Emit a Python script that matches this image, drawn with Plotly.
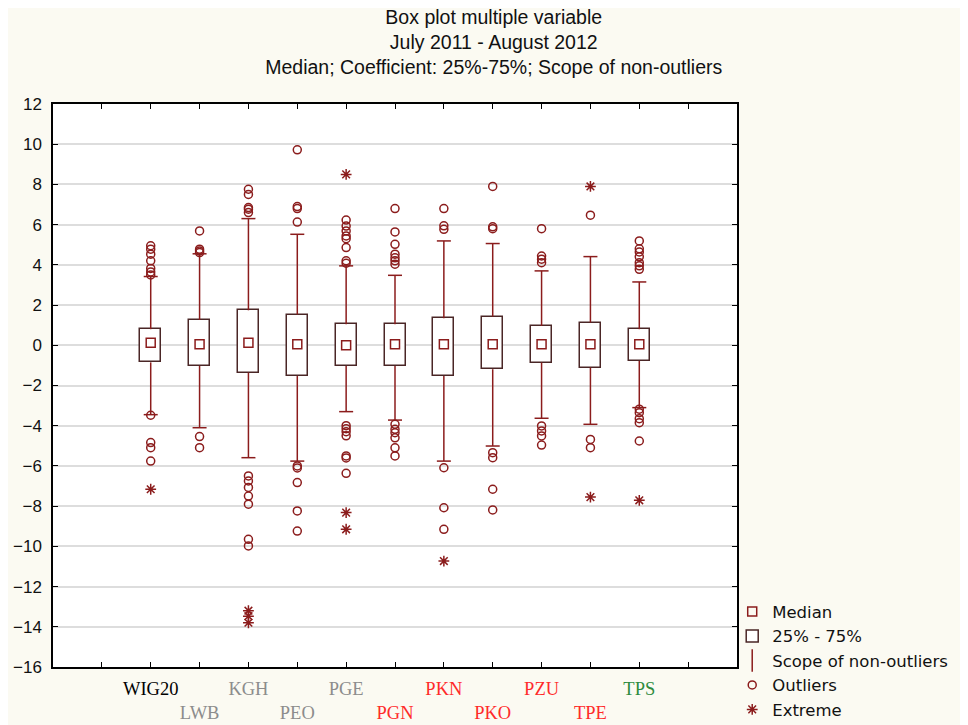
import plotly.graph_objects as go

labels = ["WIG20", "LWB", "KGH", "PEO", "PGE", "PGN", "PKN", "PKO", "PZU", "TPE", "TPS"]
label_colors = ["#000000", "#8c8c8c", "#8c8c8c", "#8c8c8c", "#8c8c8c", "#ff2a2a",
                "#ff2a2a", "#ff2a2a", "#ff2a2a", "#ff2a2a", "#2e8b3e"]

q1 = [-0.85, -1.03, -1.36, -1.53, -1.03, -1.03, -1.53, -1.19, -0.86, -1.11, -0.78]
q3 = [0.80, 1.26, 1.74, 1.53, 1.04, 1.04, 1.34, 1.43, 0.96, 1.13, 0.80]
median = [0.13, 0.05, 0.13, 0.05, 0.00, 0.05, 0.05, 0.05, 0.05, 0.05, 0.05]
whisker_hi = [3.42, 4.55, 6.30, 5.52, 3.95, 3.48, 5.19, 5.06, 3.70, 4.41, 3.15]
whisker_lo = [-3.45, -4.10, -5.59, -5.76, -3.30, -3.72, -5.76, -5.01, -3.63, -3.93, -3.10]

outliers = [
    [3.50, 3.65, 3.82, 4.20, 4.53, 4.78, 4.95, -3.48, -4.84, -5.09, -5.76],
    [4.61, 4.69, 4.78, 5.69, -4.54, -5.09],
    [6.60, 6.77, 6.85, 7.50, 7.76, -6.50, -6.75, -7.07, -7.50, -7.90, -9.65, -9.98],
    [6.13, 6.80, 6.90, 9.72, -6.00, -6.10, -6.83, -8.24, -9.24],
    [4.08, 4.20, 4.86, 5.30, 5.44, 5.69, 5.93, 6.23, -4.00, -4.15, -4.30, -4.50, -5.50, -5.60, -6.37],
    [4.03, 4.20, 4.35, 4.53, 5.02, 5.64, 6.80, -3.93, -4.18, -4.35, -4.60, -5.10, -5.50],
    [5.77, 5.94, 6.80, -6.09, -8.08, -9.15],
    [5.80, 5.89, 7.90, -5.34, -5.59, -7.16, -8.19],
    [4.11, 4.28, 4.44, 5.80, -4.01, -4.26, -4.51, -4.96],
    [6.47, -4.68, -5.09],
    [3.78, 3.95, 4.11, 4.40, 4.64, 4.80, 5.19, -3.18, -3.35, -3.65, -3.85, -4.76],
]
extremes = [
    [-7.16],
    [],
    [-13.20, -13.47, -13.80],
    [],
    [8.50, -8.32, -9.15],
    [],
    [-10.73],
    [],
    [],
    [7.90, -7.55],
    [-7.71],
]

DARK_RED = "#8b1c1c"
BOX_LINE = "#4a2626"
FONT_LEG = "DejaVu Sans, Verdana, sans-serif"
FONT_ARIAL = "Liberation Sans, Arial, sans-serif"

idx = list(range(len(labels)))

# whisker lines
wx, wy = [], []
for i in idx:
    wx += [i, i, None, i, i, None]
    wy += [q3[i], whisker_hi[i], None, q1[i], whisker_lo[i], None]

ox, oy = [], []
for i, vals in enumerate(outliers):
    ox += [i] * len(vals)
    oy += vals
ex, ey = [], []
for i, vals in enumerate(extremes):
    ex += [i] * len(vals)
    ey += vals

fig = go.Figure()

fig.add_trace(go.Scatter(
    x=wx, y=wy, mode="lines", line=dict(color=DARK_RED, width=1.5),
    showlegend=False, hoverinfo="skip"))
fig.add_trace(go.Scatter(
    x=idx + idx, y=whisker_hi + whisker_lo, mode="markers",
    marker=dict(symbol="line-ew", size=10, line=dict(color=DARK_RED, width=1.5)),
    showlegend=False, hoverinfo="skip"))

fig.add_trace(go.Bar(
    x=idx, y=[b - a for a, b in zip(q1, q3)], base=q1, width=0.43,
    marker=dict(color="white", line=dict(color=BOX_LINE, width=1.5)),
    name="25% - 75%", legendrank=2))

fig.add_trace(go.Scatter(
    x=idx, y=median, mode="markers", name="Median", legendrank=1,
    marker=dict(symbol="square-open", size=9, color=DARK_RED, line=dict(width=1.5))))

fig.add_trace(go.Scatter(
    x=[None], y=[None], mode="markers", name="Scope of non-outliers", legendrank=3,
    marker=dict(symbol="line-ns", size=16, line=dict(color=DARK_RED, width=1.5))))

fig.add_trace(go.Scatter(
    x=ox, y=oy, mode="markers", name="Outliers", legendrank=4,
    marker=dict(symbol="circle-open", size=8, color=DARK_RED, line=dict(width=1.5))))

fig.add_trace(go.Scatter(
    x=ex, y=ey, mode="markers", name="Extreme", legendrank=5,
    marker=dict(symbol="asterisk-open", size=9, color=DARK_RED, line=dict(width=1.5, color=DARK_RED))))

tickvals = [-1] + idx + [len(labels)]
ticktext = [""]
for i, (lab, col) in enumerate(zip(labels, label_colors)):
    t = f"<span style='color:{col}'>{lab}</span>"
    ticktext.append(t if i % 2 == 0 else "<br>" + t)
ticktext.append("")

fig.update_layout(
    width=960, height=717,
    paper_bgcolor="#fbfaf2", plot_bgcolor="white",
    margin=dict(l=45, r=231, t=96, b=58, autoexpand=False),
    title=dict(
        text="Box plot multiple variable<br>July 2011 - August 2012<br>Median; Coefficient: 25%-75%; Scope of non-outliers",
        x=0.506, xref="container", xanchor="center", yref="container", y=0.978, yanchor="top",
        font=dict(family=FONT_ARIAL, size=19.5, color="#111111")),
    xaxis=dict(
        range=[-2, 12], tickmode="array", tickvals=tickvals, ticktext=ticktext,
        ticks="inside", ticklen=5, tickcolor="black", showgrid=False, zeroline=False,
        showline=True, linecolor="black", linewidth=1.5, mirror="ticks",
        automargin=False, ticklabelstandoff=4, tickangle=0,
        tickfont=dict(family="Liberation Serif, Times New Roman, serif", size=18.5, color="black")),
    yaxis=dict(
        range=[-16, 12], dtick=2, tick0=0,
        ticks="inside", ticklen=5, tickcolor="black",
        showgrid=True, gridcolor="#dddddd", gridwidth=1.5, zeroline=False,
        showline=True, linecolor="black", linewidth=1.5, mirror="ticks",
        automargin=False, ticklabelstandoff=6,
        tickfont=dict(family=FONT_ARIAL, size=17, color="#111111")),
    legend=dict(
        x=0.993, xanchor="left", y=0.129, yanchor="top",
        bgcolor="rgba(0,0,0,0)", borderwidth=0,
        font=dict(family=FONT_LEG, size=16.5, color="#111111"),
        itemwidth=30, tracegroupgap=0),
    bargap=0, showlegend=True,
)

fig.write_html("out.html")
